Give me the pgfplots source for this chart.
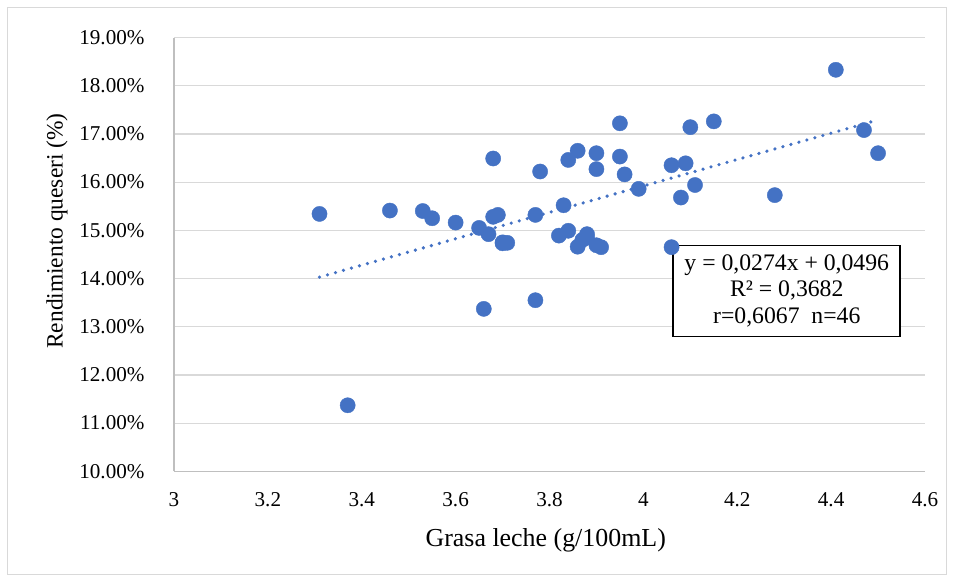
\documentclass[border=0pt]{standalone}
\usepackage{fontspec}
\setmainfont{Liberation Serif}
\usepackage{pgfplots}
\pgfplotsset{compat=1.18}
\usepackage{pgfplotstable}

\definecolor{ptblue}{HTML}{4472C4}
\definecolor{gridgray}{HTML}{D9D9D9}
\definecolor{axisgray}{HTML}{BFBFBF}

% Grasa (g/100mL) vs rendimiento quesero (%)
\pgfplotstableread{
x     y
3.31  15.34
3.37  11.37
3.46  15.41
3.53  15.40
3.55  15.25
3.60  15.16
3.65  15.05
3.67  14.92
3.68  16.49
3.68  15.28
3.69  15.32
3.70  14.73
3.71  14.74
3.70  14.75
3.66  13.37
3.77  13.55
3.77  15.32
3.78  16.22
3.82  14.89
3.83  15.52
3.84  14.99
3.84  16.46
3.86  16.65
3.86  14.66
3.87  14.80
3.88  14.92
3.88  14.85
3.90  16.60
3.90  16.27
3.90  14.69
3.91  14.65
3.95  17.22
3.95  16.53
3.96  16.16
3.99  15.86
4.06  16.35
4.09  16.39
4.10  17.14
4.15  17.26
4.11  15.94
4.08  15.68
4.28  15.73
4.06  14.65
4.41  18.33
4.47  17.08
4.50  16.60
}\datos

% Linear trend y = 0.0274x + 0.0496 (in %)
\pgfplotstableread{
x     y
3.31  14.03
4.50  17.29
}\tendencia

\begin{document}
\begin{tikzpicture}
\useasboundingbox (0bp,0bp) rectangle (953bp,-581bp);
\draw[gridgray, line width=1bp] (7bp,-7bp) rectangle (946bp,-574bp);
\begin{axis}[
  at={(174bp,-471.3bp)}, anchor=south west,
  scale only axis,
  width=751bp, height=433.8bp,
  xmin=3, xmax=4.6, ymin=10, ymax=19,
  xtick={3,3.2,...,4.6},
  ytick={10,11,...,19},
  xticklabel={\pgfmathprintnumber[fixed,precision=1]{\tick}},
  yticklabel={\pgfmathprintnumber[fixed,fixed zerofill,precision=2]{\tick}\%},
  /pgf/number format/assume math mode=true,
  tick style={draw=none},
  ticklabel style={font=\fontsize{21.2}{24}\selectfont},
  xticklabel style={yshift=-18bp},
  yticklabel style={xshift=-26bp},
  axis x line*=bottom, axis y line*=left,
  axis line style={axisgray, line width=1.2bp},
  ymajorgrids, grid style={gridgray, line width=1.2bp},
  xlabel={Grasa leche (g/100mL)},
  ylabel={Rendimiento queseri (\%)},
  xlabel style={at={(rel axis cs:0.495,-0.158)}, anchor=center,
    font=\fontsize{26}{30}\selectfont},
  ylabel style={at={(rel axis cs:-0.1558,0.554)}, anchor=center,
    font=\fontsize{23.5}{28}\selectfont},
  clip=false,
]
\addplot[only marks, mark=*, mark size=7.6bp,
  mark options={fill=ptblue, draw=ptblue}] table[x=x,y=y] {\datos};
\addplot[ptblue, line width=3.6bp, line cap=round,
  dash pattern=on 0pt off 8.3bp] table[x=x,y=y] {\tendencia};
\node[draw=black, line width=1.6bp, fill=white, align=center,
  minimum width=227bp, minimum height=91bp, inner sep=2bp,
  font=\fontsize{23.8}{26.7}\selectfont]
  at (axis cs:4.3055,13.743)
  {y = 0,0274x + 0,0496\\R² = 0,3682\\r=0,6067\ \ n=46};
\end{axis}
\end{tikzpicture}
\end{document}
